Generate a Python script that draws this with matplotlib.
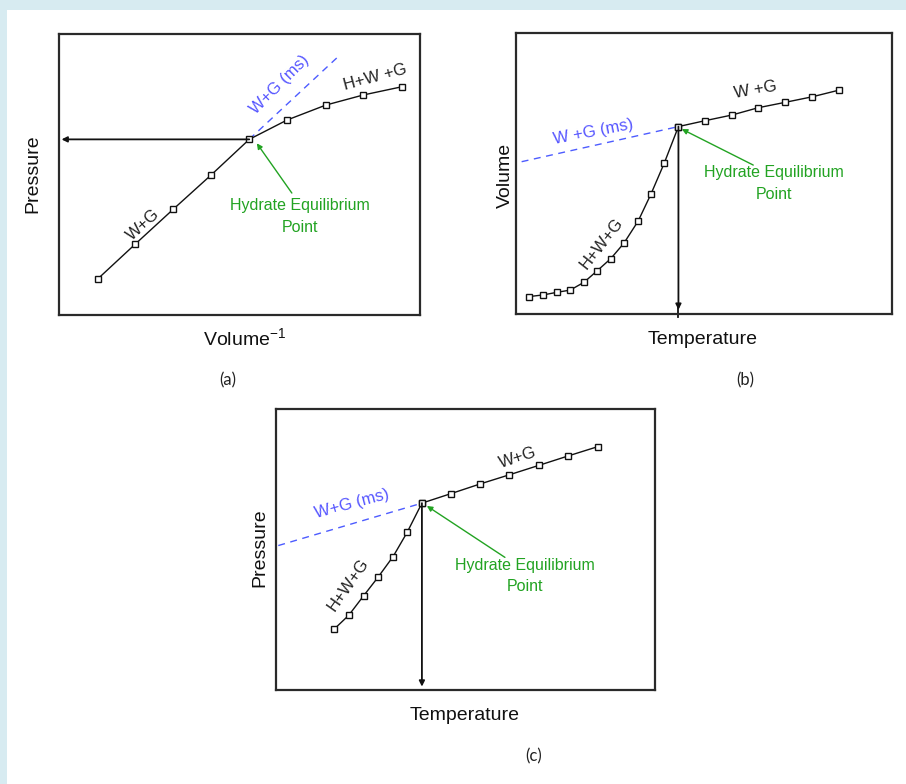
import matplotlib
matplotlib.use("Agg")
import matplotlib.pyplot as plt
from matplotlib.patches import Rectangle

plt.rcParams['font.family'] = ['Liberation Sans', 'DejaVu Sans']
plt.rcParams['mathtext.default'] = 'regular'

# ---------------- data (arbitrary units, 0-10 axes) ----------------
# Panel (a): Pressure vs 1/Volume
a_x = [1.07, 2.11, 3.17, 4.22, 5.27, 6.32, 7.39, 8.43, 9.49]
a_y = [1.28, 2.52, 3.77, 4.99, 6.25, 6.94, 7.47, 7.83, 8.12]
a_ms_x = [5.27, 7.78]
a_ms_y = [6.25, 9.25]

# Panel (b): Volume vs Temperature
b_low_x = [0.35, 0.73, 1.08, 1.44, 1.81, 2.16, 2.52, 2.87, 3.25, 3.59, 3.94, 4.32]
b_low_y = [0.62, 0.68, 0.77, 0.85, 1.13, 1.54, 1.97, 2.52, 3.31, 4.27, 5.36, 6.67]
b_up_x = [4.32, 5.03, 5.74, 6.44, 7.15, 7.88, 8.60]
b_up_y = [6.67, 6.88, 7.08, 7.34, 7.53, 7.73, 7.97]
b_ms_x = [0.15, 4.32]
b_ms_y = [5.42, 6.67]

# Panel (c): Pressure vs Temperature
c_low_x = [1.53, 1.92, 2.31, 2.69, 3.09, 3.46, 3.85]
c_low_y = [2.16, 2.66, 3.35, 4.01, 4.75, 5.61, 6.65]
c_up_x = [3.85, 4.62, 5.38, 6.16, 6.95, 7.71, 8.49]
c_up_y = [6.65, 6.99, 7.33, 7.66, 8.00, 8.33, 8.66]
c_ms_x = [0.06, 3.85]
c_ms_y = [5.14, 6.65]

W, H = 906, 784
fig = plt.figure(figsize=(W / 100, H / 100), dpi=100)
fig.patch.set_facecolor('white')

# light blue frame (top and left)
fig.patches.append(Rectangle((0, 1 - 10 / H), 1, 10 / H, transform=fig.transFigure,
                             facecolor='#d7ebf1', edgecolor='none', zorder=0))
fig.patches.append(Rectangle((0, 0), 7 / W, 1, transform=fig.transFigure,
                             facecolor='#d7ebf1', edgecolor='none', zorder=0))

def make_ax(l, t, r, b):
    ax = fig.add_axes([l / W, 1 - b / H, (r - l) / W, (b - t) / H])
    ax.set_xlim(0, 10)
    ax.set_ylim(0, 10)
    ax.set_xticks([])
    ax.set_yticks([])
    for s in ax.spines.values():
        s.set_linewidth(1.6)
        s.set_color('#2a2a2a')
    return ax

def ftext(x, y, s, **kw):
    fig.text(x / W, 1 - y / H, s, ha='center', va='center', **kw)

line_kw = dict(color='#111111', lw=1.0, marker='s', markersize=5,
               markerfacecolor='white', markeredgecolor='#111111', markeredgewidth=1.0)
blue = '#4d5cff'
green = '#22a322'
lab_kw = dict(fontsize=12, color='#222222', ha='center', va='center')
ms_kw = dict(fontsize=12, color='#5555ff', ha='center', va='center')
hep_kw = dict(fontsize=11.5, color=green, ha='center', va='center', linespacing=1.55)
sub_kw = dict(fontsize=12, color='#222222', family=['Lato', 'DejaVu Sans'])

def black_arrow(ax, x0, y0, x1, y1):
    ax.annotate('', xy=(x1, y1), xytext=(x0, y0),
                arrowprops=dict(arrowstyle='-|>', color='#111111', lw=1.3,
                                mutation_scale=8, shrinkA=0, shrinkB=0),
                annotation_clip=False)

def green_arrow(ax, x0, y0, x1, y1):
    ax.annotate('', xy=(x1, y1), xytext=(x0, y0),
                arrowprops=dict(arrowstyle='-|>', color=green, lw=1.0,
                                mutation_scale=8, shrinkA=0, shrinkB=0),
                annotation_clip=False)

# ---------------- panel (a) ----------------
ax = make_ax(59, 34, 420, 315)
ax.plot(a_ms_x, a_ms_y, color=blue, lw=1.0, ls=(0, (5, 4)))
black_arrow(ax, a_x[4], a_y[4], 0.07, a_y[4])
ax.plot(a_x, a_y, **line_kw)
green_arrow(ax, 6.45, 4.34, 5.48, 6.11)
ax.text(6.67, 3.51, 'Hydrate Equilibrium\nPoint', **hep_kw)
ax.text(2.33, 3.20, 'W+G', rotation=42, **lab_kw)
ax.text(6.12, 8.19, 'W+G (ms)', rotation=45, **ms_kw)
ax.text(8.75, 8.47, 'H+W +G', rotation=15, **lab_kw)
ftext(245, 338, 'Volume$^{-1}$', fontsize=14, color='#111111')
ftext(33, 174, 'Pressure', fontsize=14, color='#111111', rotation=90)
ftext(228, 380, '(a)', **sub_kw)

# ---------------- panel (b) ----------------
ax = make_ax(516, 33, 892, 314)
ax.plot(b_ms_x, b_ms_y, color=blue, lw=1.0, ls=(0, (5, 4)))
black_arrow(ax, b_low_x[-1], b_low_y[-1], b_low_x[-1], 0.15)
ax.plot([b_low_x[-1], b_low_x[-1]], [0.2, -0.1], color='#111111', lw=1.3, clip_on=False)
ax.plot(b_low_x, b_low_y, **line_kw)
ax.plot(b_up_x, b_up_y, **line_kw)
green_arrow(ax, 6.31, 5.30, 4.41, 6.58)
ax.text(6.85, 4.65, 'Hydrate Equilibrium\nPoint', **hep_kw)
ax.text(6.36, 7.97, 'W +G', rotation=10, **lab_kw)
ax.text(2.06, 6.49, 'W +G (ms)', rotation=11, **ms_kw)
ax.text(2.28, 2.52, 'H+W+G', rotation=52, **lab_kw)
ftext(703, 340, 'Temperature', fontsize=14, color='#111111')
ftext(505, 175, 'Volume', fontsize=14, color='#111111', rotation=90)
ftext(745, 380, '(b)', **sub_kw)

# ---------------- panel (c) ----------------
ax = make_ax(276, 409, 655, 690)
ax.plot(c_ms_x, c_ms_y, color=blue, lw=1.0, ls=(0, (5, 4)))
black_arrow(ax, c_low_x[-1], c_low_y[-1], c_low_x[-1], 0.12)
ax.plot(c_low_x, c_low_y, **line_kw)
ax.plot(c_up_x, c_up_y, **line_kw)
green_arrow(ax, 6.04, 4.72, 3.98, 6.55)
ax.text(6.57, 4.05, 'Hydrate Equilibrium\nPoint', **hep_kw)
ax.text(6.39, 8.27, 'W+G', rotation=18, **lab_kw)
ax.text(2.00, 6.64, 'W+G (ms)', rotation=15, **ms_kw)
ax.text(1.91, 3.74, 'H+W+G', rotation=55, **lab_kw)
ftext(465, 716, 'Temperature', fontsize=14, color='#111111')
ftext(260, 548, 'Pressure', fontsize=14, color='#111111', rotation=90)
ftext(534, 756, '(c)', **sub_kw)

fig.savefig('out.png', dpi=100, facecolor='white')
